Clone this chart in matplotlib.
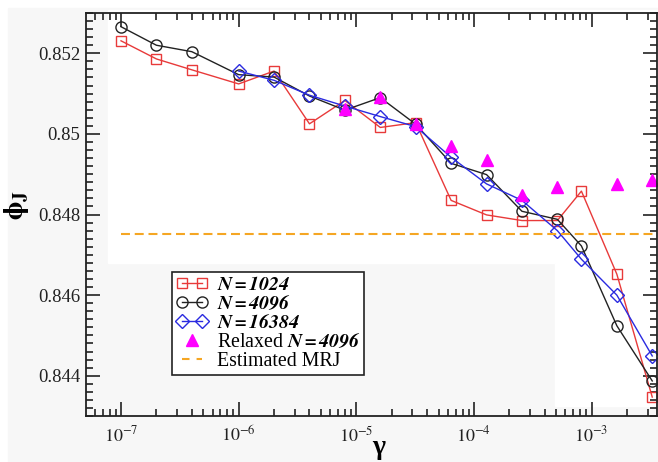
import matplotlib
matplotlib.use("Agg")
import matplotlib.pyplot as plt
from matplotlib.patches import Rectangle, Polygon
from matplotlib.lines import Line2D
from matplotlib.legend_handler import HandlerLine2D
from matplotlib.ticker import LogLocator, MultipleLocator, FixedFormatter, NullFormatter

plt.rcParams['font.family'] = ['Liberation Serif', 'DejaVu Serif']
plt.rcParams['mathtext.fontset'] = 'stix'

# gamma values (x)
gamma_1024 = [1e-7, 2e-7, 4e-7, 1e-6, 2e-6, 4e-6, 8e-6, 1.6e-5, 3.2e-5, 6.4e-5,
              1.28e-4, 2.56e-4, 5.12e-4, 8.2e-4, 1.64e-3, 3.28e-3]
phi_1024 = [0.85231, 0.85186, 0.85159, 0.85124, 0.85156, 0.85025, 0.85083, 0.85016,
            0.85028, 0.84835, 0.84799, 0.84785, 0.84785, 0.84858, 0.84652, 0.84347]

gamma_4096 = gamma_1024
phi_4096 = [0.85266, 0.85220, 0.85204, 0.85147, 0.85141, 0.85094, 0.85059, 0.85090,
            0.85024, 0.84927, 0.84899, 0.84808, 0.84788, 0.84722, 0.84524, 0.84387]

gamma_16384 = [1e-6, 2e-6, 4e-6, 8e-6, 1.6e-5, 3.2e-5, 6.4e-5, 1.28e-4, 2.56e-4,
               5.12e-4, 8.2e-4, 1.64e-3, 3.28e-3]
phi_16384 = [0.85156, 0.85133, 0.85096, 0.85069, 0.85043, 0.85018, 0.84942, 0.84876,
             0.84835, 0.84760, 0.84689, 0.84600, 0.84449]

gamma_relaxed = [8e-6, 1.6e-5, 3.2e-5, 6.4e-5, 1.28e-4, 2.56e-4, 5.12e-4, 1.64e-3, 3.28e-3]
phi_relaxed = [0.85061, 0.85091, 0.85024, 0.84970, 0.84935, 0.84849, 0.84867, 0.84876, 0.84886]

mrj_phi = 0.84751
mrj_gamma_range = [1e-7, 3.6e-3]

xticks = [1e-7, 1e-6, 1e-5, 1e-4, 1e-3]
xticklabels = [r'$10^{-7}$', r'$10^{-6}$', r'$10^{-5}$', r'$10^{-4}$', r'$10^{-3}$']
yticks = [0.844, 0.846, 0.848, 0.85, 0.852]
yticklabels = ['0.844', '0.846', '0.848', '0.85', '0.852']

W, H = 658, 462
fig = plt.figure(figsize=(W / 100, H / 100), dpi=100)
fig.patch.set_facecolor('white')

# screenshot-like background
def px(x, y):
    return (x / W, 1 - y / H)

fig.patches.append(Rectangle(px(8, 462), (W - 8) / W, (462 - 8) / H,
                             transform=fig.transFigure, color='#f7f7f7', zorder=-2))
fig.patches.append(Polygon([px(108, 10), px(658, 10), px(658, 406), px(555, 406),
                            px(555, 263), px(108, 263)], closed=True,
                           transform=fig.transFigure, color='white', zorder=-1))

ax = fig.add_axes([86 / W, 1 - 416 / H, 571 / W, 403 / H])
ax.patch.set_alpha(0)

red, blk, blu, mag, org = '#e83a3a', '#222222', '#2a2ae0', '#ff00ff', '#f5a623'
l1, = ax.plot(gamma_1024, phi_1024, color=red, lw=1, marker='s', ms=7,
              mfc='none', mec=red, mew=1)
l2, = ax.plot(gamma_4096, phi_4096, color=blk, lw=1, marker='o', ms=8,
              mfc='none', mec=blk, mew=1)
l3, = ax.plot(gamma_16384, phi_16384, color=blu, lw=1, marker='D', ms=7,
              mfc='none', mec=blu, mew=1)
l4, = ax.plot(gamma_relaxed, phi_relaxed, ls='none', marker='^', ms=8,
              color=mag)
ax.plot(mrj_gamma_range, [mrj_phi, mrj_phi], color=org, lw=1.5,
        ls=(0, (4.3, 2.3)))
# legend proxy for the dashed line (two dashes, as in the original)
l5 = Line2D([], [], color=org, lw=1.5, ls=(0, (3.6, 3.4)))

ax.set_xscale('log')
ax.set_xlim(5.04e-8, 3.6e-3)
ax.set_ylim(0.843, 0.853)

ax.set_xticks(xticks)
ax.xaxis.set_major_formatter(FixedFormatter(xticklabels))
ax.xaxis.set_minor_locator(LogLocator(base=10, subs=range(2, 10), numticks=20))
ax.xaxis.set_minor_formatter(NullFormatter())
ax.set_yticks(yticks)
ax.set_yticklabels(yticklabels)
ax.yaxis.set_minor_locator(MultipleLocator(0.0002))

ax.tick_params(which='both', direction='in', top=True, right=True, width=1.2,
               colors='#222222')
ax.tick_params(axis='y', labelsize=13.5)
ax.tick_params(axis='x', labelsize=13)
ax.tick_params(which='major', length=10)
ax.tick_params(axis='y', which='major', pad=4)
ax.tick_params(axis='x', which='major', pad=7)
ax.tick_params(which='minor', length=5)
for s in ax.spines.values():
    s.set_linewidth(1.3)
    s.set_color('#222222')

ax.text(-0.121, 0.524, r'$\mathbf{\phi_J}$', transform=ax.transAxes, fontsize=20,
        rotation=90, ha='center', va='center')
ax.text(0.512, -0.079, 'γ', transform=ax.transAxes, fontsize=20, fontweight='bold',
        ha='center', va='center')

labels = [r'$\mathbfit{N{=}1024}$', r'$\mathbfit{N{=}4096}$', r'$\mathbfit{N{=}16384}$',
          r'Relaxed $\mathbfit{N{=}4096}$', 'Estimated MRJ']
leg = ax.legend([l1, l2, l3, l4, l5], labels, loc='upper left',
                bbox_to_anchor=(0.1506, 0.357),
                fontsize=14.3, frameon=True, fancybox=False, edgecolor='#222222',
                framealpha=1, borderpad=0.2, labelspacing=0.0, handlelength=1.6,
                handletextpad=0.45, borderaxespad=0, numpoints=2,
                handler_map={l4: HandlerLine2D(numpoints=1)})
leg.get_frame().set_linewidth(1.2)

fig.savefig('out.png', dpi=100)
